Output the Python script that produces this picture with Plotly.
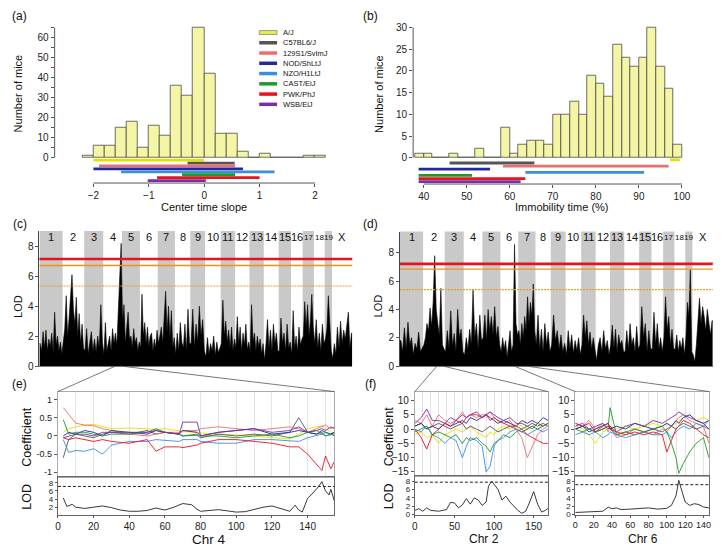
import plotly.graph_objects as go

W, H = 726, 555
FONT = "Liberation Sans, Arial, Helvetica, sans-serif"


def fx(p):
    return p / W


def fy(p):
    return 1 - p / H


# ---------------- data ----------------
strains = ["A/J", "C57BL6/J", "129S1/SvImJ", "NOD/ShLtJ", "NZO/H1LtJ", "CAST/EiJ", "PWK/PhJ", "WSB/EiJ"]
strain_colors = ["#e2e200", "#555555", "#ec6e6e", "#1f2a9e", "#3b8fdc", "#1f9a2a", "#e8141c", "#7a2fa8"]

# (a) centre time slope histogram
center_bin_start = -2.2
center_bin_width = 0.2
center_counts = [1, 6, 6, 15, 18, 5, 16, 11, 36, 31, 65, 42, 12, 12, 3, 0, 2, 0, 0, 0, 1, 1]
center_lo = [-2.0, -0.3, -1.9, -2.0, -1.5, -0.4, -0.85, -1.02]
center_hi = [0.0, 0.55, 0.56, 0.7, 1.27, 0.56, 1.0, 0.03]

# (b) immobility time histogram
immob_bin_start = 38
immob_bin_width = 2
immob_counts = [1, 1, 0, 0, 1, 0, 0, 2, 0, 0, 7, 1, 3, 4, 4, 3, 10, 10, 13, 10, 19, 17, 14, 26, 23, 21, 23, 30, 21, 16, 3]
immob_lo = [97.2, 46.0, 58.4, 38.8, 63.6, 38.8, 38.8, 38.8]
immob_hi = [99.5, 65.7, 96.9, 55.4, 91.2, 51.2, 63.6, 62.5]

# genome
chrom_names = ["1", "2", "3", "4", "5", "6", "7", "8", "9", "10", "11", "12", "13", "14", "15", "16", "17", "18", "19", "X"]
chrom_len = [195, 182, 160, 157, 152, 150, 145, 129, 125, 131, 122, 120, 121, 125, 104, 98, 95, 91, 61, 171]

# (c) LOD, centre time slope (per chromosome)
lod_center = [
    [1.5, 1.0, 2.3, 1.2, 2.4, 1.0, 1.8, 1.3, 2.2, 0.9, 3.6, 1.4, 2.0, 1.0, 1.6, 0.8],
    [1.5, 2.5, 4.7, 2.0, 3.2, 4.4, 6.1, 3.8, 2.8, 4.6, 2.0, 3.5, 1.5, 2.8, 1.2],
    [1.0, 2.5, 0.8, 1.5, 2.3, 1.0, 1.8, 0.9, 2.0, 1.2, 4.1, 1.5],
    [0.8, 2.9, 1.0, 1.5, 2.0, 1.0, 2.5, 1.5, 2.2, 1.4, 3.5, 6.3, 8.2],
    [3.0, 4.1, 1.5, 2.9, 3.6, 1.8, 2.0, 1.2, 2.5, 1.5, 1.9, 1.0, 1.6],
    [1.2, 4.8, 2.0, 2.9, 1.5, 2.6, 1.3, 2.0, 2.2, 1.0, 1.8, 1.2, 2.4],
    [1.5, 2.0, 2.6, 1.5, 3.0, 5.0, 2.2, 4.0, 1.8, 3.7, 1.2, 1.9],
    [0.8, 2.2, 1.0, 2.9, 1.6, 1.2, 2.8, 1.0, 3.8, 1.5],
    [1.5, 3.8, 1.2, 2.8, 1.6, 4.0, 2.0, 3.1, 1.0],
    [0.6, 1.9, 0.8, 1.5, 1.0, 2.0, 0.7, 1.6, 0.9, 1.2],
    [1.5, 4.4, 2.0, 3.0, 1.6, 2.4, 1.2, 2.6, 1.0, 1.8],
    [1.2, 3.3, 1.5, 2.6, 1.0, 2.2, 1.4, 2.8, 1.1, 1.6],
    [1.0, 4.1, 1.6, 2.2, 1.0, 2.0, 1.3, 1.8, 0.8, 1.5],
    [0.4, 1.5, 3.1, 1.2, 2.4, 1.0, 2.8, 1.5, 2.2, 1.0],
    [1.0, 3.2, 1.5, 2.2, 1.0, 2.8, 1.2, 1.6],
    [0.8, 3.7, 1.2, 2.0, 1.0, 2.6, 1.4, 1.8],
    [2.0, 4.3, 2.5, 4.1, 2.0, 3.0, 4.8, 2.6],
    [1.5, 3.1, 1.2, 2.2, 1.0, 2.8, 1.5],
    [1.8, 2.5, 4.7, 3.0, 1.0],
    [0.5, 1.5, 0.8, 2.6, 1.2, 3.0, 1.5, 2.4, 1.8, 2.8, 3.6, 1.2, 2.2],
]
center_thresholds = [7.15, 6.72, 5.35]

# (d) LOD, immobility time (per chromosome)
lod_immob = [
    [1.8, 1.0, 2.7, 1.2, 3.1, 1.5, 2.0, 0.8, 1.6, 1.2, 2.4, 1.0, 1.3],
    [1.5, 2.0, 3.0, 2.5, 4.1, 2.8, 4.5, 7.8, 4.0, 3.0, 2.2, 5.5, 1.5, 1.2],
    [1.0, 2.5, 1.2, 3.9, 1.4, 2.3, 1.0, 4.0, 2.0, 2.6, 1.0],
    [0.8, 2.0, 1.2, 2.6, 1.5, 5.4, 2.0, 3.0, 1.2, 3.6, 1.8],
    [2.0, 3.6, 1.8, 4.0, 2.5, 3.5, 2.2, 4.2, 2.0, 2.8, 1.5],
    [1.0, 2.0, 1.2, 1.8, 0.6, 1.5, 2.5, 1.0, 1.5, 8.6, 3.0, 2.2],
    [2.5, 1.5, 3.0, 2.0, 3.5, 2.5, 4.9, 3.0, 4.5, 3.5, 5.8, 2.5],
    [1.5, 3.6, 1.2, 2.6, 1.0, 3.0, 1.5, 2.4, 1.0],
    [1.5, 3.6, 1.8, 2.5, 1.2, 2.2, 1.0, 1.6],
    [0.8, 2.5, 1.2, 2.2, 0.9, 1.8, 1.1, 2.0, 0.8],
    [1.5, 3.6, 2.0, 3.2, 1.5, 2.4, 1.2, 2.0, 1.0],
    [0.4, 1.5, 2.0, 1.0, 2.5, 1.2, 1.8, 0.8],
    [1.5, 2.9, 1.2, 2.6, 1.0, 2.2, 1.5, 1.8, 1.0],
    [1.0, 2.5, 1.2, 3.0, 1.5, 2.0, 1.0, 2.8, 1.2],
    [1.5, 4.2, 2.0, 3.0, 1.0, 2.5, 1.2],
    [1.2, 3.8, 1.5, 3.0, 1.2, 2.0, 1.0],
    [2.0, 4.9, 2.5, 3.5, 1.5, 2.6, 1.2],
    [1.2, 2.2, 1.0, 1.8, 1.2, 2.0, 0.8],
    [2.0, 4.5, 3.5, 6.8, 1.0],
    [0.8, 0.3, 1.5, 3.5, 4.8, 3.0, 4.2, 3.5, 2.5, 4.0, 3.0, 2.2, 3.2],
]
immob_thresholds = [7.22, 6.85, 5.40]

# (e) chromosome 4 coefficients (strain order as above) and LOD
chr4_pos = [3, 6, 10, 15, 20, 25, 30, 40, 50, 55, 60, 68, 70, 78, 80, 90, 100, 110, 120, 130, 135, 140, 145, 148, 150, 153, 155]
chr4_coef = [
    [0.1, 0.2, 0.25, 0.3, 0.32, 0.25, 0.2, 0.22, 0.2, 0.18, 0.2, 0.15, 0.12, 0.1, 0.08, 0.05, 0.03, 0.0, -0.05, -0.08, 0.05, 0.2, 0.25, 0.28, 0.2, 0.1, 0.05],
    [-0.6, -0.1, 0.05, 0.0, -0.05, 0.05, 0.1, 0.05, 0.15, 0.05, 0.1, 0.05, 0.0, 0.02, -0.05, 0.05, 0.0, 0.05, 0.0, 0.1, 0.5, 0.1, 0.05, 0.1, 0.0, 0.05, 0.1],
    [0.78, 0.6, 0.35, 0.3, 0.28, 0.2, 0.15, 0.05, 0.0, 0.05, 0.1, 0.1, 0.15, 0.15, 0.2, 0.25, 0.2, 0.15, 0.2, 0.25, 0.2, 0.1, 0.2, 0.25, 0.3, 0.2, 0.25],
    [0.0, 0.1, 0.05, 0.15, 0.1, 0.0, 0.15, 0.1, 0.05, 0.15, 0.1, 0.05, 0.15, 0.1, 0.0, 0.1, 0.15, 0.2, 0.05, 0.1, 0.15, 0.1, 0.05, 0.15, 0.1, 0.05, 0.1],
    [-0.1, -0.45, -0.4, -0.42, -0.35, -0.5, -0.25, -0.15, -0.15, -0.1, -0.12, -0.15, -0.1, -0.1, -0.15, -0.2, -0.2, -0.1, -0.1, -0.12, -0.15, -0.05, 0.0, 0.05, 0.0, 0.02, 0.05],
    [0.45, 0.05, 0.1, 0.1, 0.05, 0.0, 0.05, 0.05, 0.1, 0.2, 0.1, 0.05, 0.0, 0.05, 0.0, 0.0, -0.05, 0.0, 0.05, -0.05, 0.0, 0.1, 0.15, 0.05, 0.1, 0.05, 0.0],
    [-0.05, -0.1, -0.05, -0.1, -0.15, -0.1, -0.15, -0.2, -0.1, -0.42, -0.3, -0.3, -0.32, -0.25, -0.2, -0.1, -0.1, -0.15, -0.2, -0.3, -0.3, -0.5, -0.8, -0.95, -0.55, -0.9, -0.7],
    [-0.05, 0.0, 0.05, 0.05, 0.0, 0.1, 0.1, 0.12, 0.1, 0.15, 0.1, 0.05, 0.38, 0.38, 0.0, 0.1, 0.15, 0.2, 0.1, 0.15, 0.25, 0.1, 0.15, 0.2, 0.15, 0.25, 0.2],
]
chr4_lod_pos = [3, 5, 8, 10, 15, 20, 25, 30, 35, 40, 45, 50, 55, 60, 65, 70, 75, 78, 80, 90, 100, 105, 110, 115, 120, 125, 130, 133, 135, 137, 140, 143, 146, 148, 150, 152, 153, 155]
chr4_lod = [4.3, 2.2, 2.7, 2.0, 1.7, 2.0, 2.3, 1.9, 1.3, 1.0, 1.0, 1.2, 1.8, 1.3, 2.0, 2.9, 2.6, 1.5, 1.0, 1.4, 0.8, 0.9, 1.5, 2.0, 2.3, 1.6, 1.0, 2.5, 1.3, 0.8, 4.2, 5.5, 7.0, 8.3, 6.0, 5.0, 6.4, 3.5]
chr4_lod_threshold = 7.1

# (f) chromosome 2 and 6
chr2_pos = [0, 8, 15, 22, 30, 38, 45, 52, 60, 65, 70, 78, 85, 90, 95, 100, 105, 112, 120, 128, 135, 142, 148, 155, 162, 168]
chr2_coef = [
    [-2, -1, -3, -2, -5, -2, -1, 0, -1, 0, 1, -1, -2, -3, -1, -2, 0, 1, 0, 2, 1, 0, 1, 2, 1, 2],
    [1, 2, 0, 1, 2, 1, 0, 1, 2, 0, 1, 0, -1, 0, 1, 0, -1, 0, 1, 0, -1, 0, 1, 0, 1, 2],
    [3, 2, 5, 1, 5, 3, 2, 3, 6, 4, 5, 4, 5, 5, 6, 4, 3, 2, 3, 0, -3, -10, -6, -2, 0, 1],
    [1, 2, 0, 1, 0, 2, 1, 2, 3, 2, 4, 3, 4, 5, 4, 3, 2, 3, 2, 1, 3, 2, 3, 2, 4, 3],
    [0, -1, 1, -2, -3, -5, -3, -4, -10, -6, -3, -4, -6, -15, -13, -6, -4, -3, -1, 0, -1, -2, -1, 0, -1, 0],
    [-1, 0, 1, -2, -1, -2, -3, -2, -5, -3, -4, -3, -5, -6, -8, -5, -4, -2, -3, -1, 0, 1, 0, 2, 1, 2],
    [0, -3, -7, -2, 0, 2, 1, 3, 2, 4, 5, 5, 4, 5, 3, 4, 3, 2, 1, 1, 0, -2, -3, -4, -5, -5],
    [2, 4, 7, 3, 3, 2, 4, 3, 5, 4, 5, 6, 4, 5, 6, 5, 4, 3, 4, 2, 2, 1, 2, 1, 2, 1],
]
chr2_lod_pos = [0, 5, 10, 15, 20, 30, 40, 45, 50, 55, 60, 65, 70, 75, 80, 85, 90, 93, 97, 100, 105, 110, 115, 120, 125, 130, 135, 140, 145, 150, 155, 160, 165, 168]
chr2_lod = [1.0, 1.4, 0.8, 1.6, 1.0, 0.8, 1.2, 2.9, 2.8, 1.6, 2.3, 3.8, 2.5, 4.0, 3.5, 2.2, 3.0, 6.8, 8.0, 7.3, 6.0, 3.5, 4.4, 3.0, 2.0, 1.0, 0.3, 0.8, 3.0, 5.5, 2.5, 0.6, 1.0, 1.5]
chr2_lod_threshold = 7.75

chr6_pos = [0, 8, 15, 22, 30, 36, 38, 45, 55, 65, 75, 85, 95, 100, 105, 110, 113, 118, 125, 132, 140, 146]
chr6_coef = [
    [1, 0, -2, -5, -1, 0, 1, 0, 1, 0, 1, 2, 1, 2, 1, 2, 3, 4, 5, 3, 4, 3],
    [0, 1, 0, -1, 0, 1, 0, -2, -1, -2, -1, 0, -1, 0, 1, 0, 1, 2, 1, 0, 1, 0],
    [2, 1, 3, 0, 2, -1, 1, -3, -2, 0, -1, -2, 0, -1, 1, 3, 4, 5, 3, 2, 1, -5],
    [0, 1, -1, 0, 1, 2, 0, 1, 0, 2, 1, 0, 1, 2, 1, 3, 2, 4, 5, 3, 2, 3],
    [-2, -1, -2, -1, -3, -2, -1, -2, -3, -2, -1, -2, -2, -1, -3, -1, 0, 1, 0, 2, 1, 3],
    [0, -1, 0, -1, 0, 1, 7.5, -2, -1, 0, -1, 0, 1, -1, -5, -10, -15.5, -12, -8, -5, -3, -10],
    [2, 1, 2, -1, 1, 2, 0, -1, -2, -1, -2, -1, -2, -8, -4, 0, 1, 3, 2, 0, -2, -3],
    [1, 2, 0, 1, 2, 0, 1, -1, 1, 2, 1, 3, 2, 3, 4, 5, 6, 5, 4, 3, 2, 0],
]
chr6_lod_pos = [0, 10, 20, 30, 36, 40, 45, 50, 60, 70, 80, 90, 100, 105, 110, 113, 116, 120, 125, 130, 135, 140, 146]
chr6_lod = [0.5, 0.6, 0.7, 0.8, 1.8, 1.4, 1.6, 1.2, 1.3, 1.4, 1.6, 1.3, 1.5, 2.2, 4.5, 8.2, 6.0, 3.0, 2.2, 2.6, 2.4, 1.8, 1.6]
chr6_lod_threshold = 7.15

# ---------------- figure ----------------
fig = go.Figure()
TICKFONT = dict(size=10, color="#222", family=FONT)
SMALLTICK = dict(size=9, color="#222", family=FONT)
TINYTICK = dict(size=8, color="#222", family=FONT)
AXC = "#555555"


def ax(**kw):
    d = dict(showgrid=False, zeroline=False, showline=False, ticks="outside", ticklen=3,
             tickwidth=1, tickcolor=AXC, tickfont=TICKFONT, fixedrange=True, tickangle=0)
    d.update(kw)
    return d


def xdom(a, b):
    return [fx(a), fx(b)]


def ydom(top, bottom):
    return [fy(bottom), fy(top)]


shapes = []
annotations = []


def text(px, py, s, size=11, angle=0, anchor="center", **kw):
    annotations.append(dict(x=fx(px), y=fy(py), xref="paper", yref="paper", text=s, showarrow=False,
                            font=dict(size=size, color="#111", family=FONT), textangle=angle,
                            xanchor=anchor, yanchor="middle", **kw))


def pline(x0, y0, x1, y1, color="#444", width=1, dash="solid"):
    shapes.append(dict(type="line", xref="paper", yref="paper", x0=fx(x0), y0=fy(y0), x1=fx(x1), y1=fy(y1),
                       line=dict(color=color, width=width, dash=dash)))


# ---- (a) ----
centers_a = [center_bin_start + center_bin_width * (i + 0.5) for i in range(len(center_counts))]
fig.add_trace(go.Bar(x=centers_a, y=center_counts, width=center_bin_width, xaxis="x", yaxis="y",
                     marker=dict(color="#f4f6a6", line=dict(color="#4a4a4a", width=0.8)), hoverinfo="skip"))
for i, s in enumerate(strains):
    lvl = -1.15 - 1.46 * i
    fig.add_trace(go.Scatter(x=[center_lo[i], center_hi[i]], y=[lvl, lvl], mode="lines", xaxis="x", yaxis="y",
                             line=dict(color=strain_colors[i], width=2.8), hoverinfo="skip"))
shapes.append(dict(type="line", xref="x domain", yref="y", x0=0, x1=0, y0=0, y1=65, line=dict(color=AXC, width=1)))
shapes.append(dict(type="line", xref="x", yref="y domain", x0=-2, x1=2, y0=0, y1=0, line=dict(color=AXC, width=1)))

# ---- (b) ----
centers_b = [immob_bin_start + immob_bin_width * (i + 0.5) for i in range(len(immob_counts))]
fig.add_trace(go.Bar(x=centers_b, y=immob_counts, width=immob_bin_width, xaxis="x2", yaxis="y2",
                     marker=dict(color="#f4f6a6", line=dict(color="#4a4a4a", width=0.8)), hoverinfo="skip"))
for i, s in enumerate(strains):
    lvl = -0.5 - 0.72 * i
    fig.add_trace(go.Scatter(x=[immob_lo[i], immob_hi[i]], y=[lvl, lvl], mode="lines", xaxis="x2", yaxis="y2",
                             line=dict(color=strain_colors[i], width=2.8), hoverinfo="skip"))
shapes.append(dict(type="line", xref="x2 domain", yref="y2", x0=0, x1=0, y0=0, y1=30, line=dict(color=AXC, width=1)))
shapes.append(dict(type="line", xref="x2", yref="y2 domain", x0=40, x1=100, y0=0, y1=0, line=dict(color=AXC, width=1)))

# legend (panel a)
for i, s in enumerate(strains):
    yy = 30 + 10.43 * i
    if i == 0:
        shapes.append(dict(type="rect", xref="paper", yref="paper", x0=fx(258), x1=fx(276), y0=fy(yy + 2), y1=fy(yy - 2),
                           fillcolor="#eaea50", line=dict(color="#888", width=0.8)))
    else:
        pline(258, yy, 276, yy, color=strain_colors[i], width=3.5)
    text(280, yy, s, size=7.5, anchor="left")

# ---- genome scans (c) and (d) ----
offsets = []
acc = 0
for L in chrom_len:
    offsets.append(acc)
    acc += L
genome_len = acc


def genome_xy(per_chr):
    xs, ys = [0], [per_chr[0][0]]
    for k, vals in enumerate(per_chr):
        n = len(vals)
        for i, v in enumerate(vals):
            xs.append(offsets[k] + (i + 0.5) * chrom_len[k] / n)
            ys.append(v)
    xs.append(genome_len)
    ys.append(per_chr[-1][-1])
    return xs, ys


for data, xa, ya, thr in [(lod_center, "x3", "y3", center_thresholds), (lod_immob, "x4", "y4", immob_thresholds)]:
    for k, L in enumerate(chrom_len):
        if k % 2 == 0:
            shapes.append(dict(type="rect", xref=xa, yref=ya + " domain", x0=offsets[k], x1=offsets[k] + L, y0=0, y1=1,
                               fillcolor="#c9c9c9", line=dict(width=0), layer="below"))
        annotations.append(dict(x=offsets[k] + L / 2, y=fy(238), xref=xa, yref="paper", text=chrom_names[k],
                                showarrow=False, font=dict(size=11 if L >= 98 else 8, color="#111", family=FONT),
                                xanchor="center", yanchor="middle"))
    xs, ys = genome_xy(data)
    fig.add_trace(go.Scatter(x=xs, y=ys, mode="lines", fill="tozeroy", fillcolor="#000000", xaxis=xa, yaxis=ya,
                             line=dict(color="#000000", width=0.6), hoverinfo="skip"))
    for t, col, w, dsh in zip(thr, ["#e8141c", "#f0901e", "#e8a030"], [2.6, 1.4, 1.2], ["solid", "solid", "2px,1px"]):
        shapes.append(dict(type="line", xref=xa + " domain", yref=ya, x0=0, x1=1, y0=t, y1=t,
                           line=dict(color=col, width=w, dash=dsh)))

# ---- coefficient panels (e), (f) ----
panels = [
    ("x5", "y5", "x6", "y6", chr4_pos, chr4_coef, chr4_lod_pos, chr4_lod, chr4_lod_threshold),
    ("x7", "y7", "x8", "y8", chr2_pos, chr2_coef, chr2_lod_pos, chr2_lod, chr2_lod_threshold),
    ("x9", "y9", "x10", "y10", chr6_pos, chr6_coef, chr6_lod_pos, chr6_lod, chr6_lod_threshold),
]
for xc, yc, xl, yl, pos, coef, lpos, lod, lthr in panels:
    for i in range(len(strains)):
        fig.add_trace(go.Scatter(x=pos, y=coef[i], mode="lines", xaxis=xc, yaxis=yc,
                                 line=dict(color=strain_colors[i], width=0.9), hoverinfo="skip"))
    fig.add_trace(go.Scatter(x=lpos, y=lod, mode="lines", xaxis=xl, yaxis=yl,
                             line=dict(color="#222", width=0.9), hoverinfo="skip"))
    shapes.append(dict(type="line", xref=xl + " domain", yref=yl, x0=0, x1=1, y0=lthr, y1=lthr,
                       line=dict(color="#222", width=1, dash="3px,2px")))

# connectors
pline(113.3, 369, 55.3, 395, color="#555", width=0.8)
pline(118.5, 369, 333.7, 395, color="#555", width=0.8)
pline(437, 369, 414.7, 395, color="#555", width=0.8)
pline(443, 369, 548.7, 395, color="#555", width=0.8)
pline(514.7, 369, 576.3, 395, color="#555", width=0.8)
pline(526.3, 369, 711.3, 395, color="#555", width=0.8)

# ---- text ----
text(17, 13, "(a)", size=12)
text(370, 13, "(b)", size=12)
text(17, 225, "(c)", size=12)
text(370, 225, "(d)", size=12)
text(17, 387, "(e)", size=12)
text(370, 387, "(f)", size=12)
text(15, 92, "Number of mice", size=11, angle=-90)
text(378, 92, "Number of mice", size=11, angle=-90)
text(202, 207, "Center time slope", size=11)
text(563, 207, "Immobility time (%)", size=11)
text(15, 308, "LOD", size=11, angle=-90)
text(378, 308, "LOD", size=11, angle=-90)
text(24, 441, "Coefficient", size=12.5, angle=-90)
text(24, 502, "LOD", size=12.5, angle=-90)
text(207.5, 545, "Chr 4", size=13.5)
text(389, 441, "Coefficient", size=12.5, angle=-90)
text(389, 501, "LOD", size=12.5, angle=-90)
text(484, 545, "Chr 2", size=12)
text(644.7, 545, "Chr 6", size=12)

# ---- axes ----
coef_frame = dict(showline=True, mirror=True, linecolor="#aaaaaa", linewidth=1)
lod_frame = dict(showline=True, mirror=True, linecolor="#666666", linewidth=1)
layout_axes = dict(
    xaxis=ax(domain=xdom(52, 342), range=[-2.70, 2.50], tickvals=[-2, -1, 0, 1, 2], anchor="y"),
    yaxis=ax(domain=ydom(22, 183), range=[-12.6, 66.6], tickvals=list(range(0, 70, 5)),
             ticktext=[str(v) if v % 10 == 0 and v <= 60 else "" for v in range(0, 70, 5)], anchor="x"),
    xaxis2=ax(domain=xdom(413, 690), range=[37.53, 101.46], tickvals=[40, 50, 60, 70, 80, 90, 100], anchor="y2"),
    yaxis2=ax(domain=ydom(22, 184), range=[-6.07, 30.68], tickvals=[0, 5, 10, 15, 20, 25, 30], anchor="x2"),
    xaxis3=ax(domain=xdom(36.7, 351.7), range=[0, genome_len], showticklabels=False, ticks="", anchor="y3",
              showline=True, linecolor="#777"),
    yaxis3=ax(domain=ydom(231.7, 369), range=[0, 9.03], tickvals=[0, 2, 4, 6, 8], anchor="x3",
              showline=True, linecolor="#444"),
    xaxis4=ax(domain=xdom(399.7, 714.7), range=[0, genome_len], showticklabels=False, ticks="", anchor="y4",
              showline=True, linecolor="#777"),
    yaxis4=ax(domain=ydom(232.3, 369), range=[0, 9.51], tickvals=[0, 2, 4, 6, 8], anchor="x4",
              showline=True, linecolor="#444"),
    xaxis5=ax(domain=xdom(55.3, 333.7), range=[0, 155], showticklabels=False, ticks="", anchor="y5",
              showgrid=True, gridcolor="#e2e2e2", dtick=10, tick0=0, **coef_frame),
    yaxis5=ax(domain=ydom(395, 481.5), range=[-1.12, 1.22], tickvals=[-1, -0.5, 0, 0.5, 1],
              ticktext=["-1", "-0.5", "0", "0.5", "1"], anchor="x5", tickfont=SMALLTICK, **coef_frame),
    xaxis6=ax(domain=xdom(55.3, 333.7), range=[0, 155], tickvals=[0, 20, 40, 60, 80, 100, 120, 140], anchor="y6",
              ticklen=2, **lod_frame),
    yaxis6=ax(domain=ydom(481.5, 520.5), range=[0.07, 9.5], tickvals=[2, 4, 6, 8], anchor="x6",
              tickfont=TINYTICK, ticklen=2, **lod_frame),
    xaxis7=ax(domain=xdom(414.7, 548.7), range=[0, 168], showticklabels=False, ticks="", anchor="y7",
              showgrid=True, gridcolor="#e2e2e2", dtick=10, tick0=0, **coef_frame),
    yaxis7=ax(domain=ydom(395, 480.7), range=[-16.37, 13.1], tickvals=[-15, -10, -5, 0, 5, 10], anchor="x7", **coef_frame),
    xaxis8=ax(domain=xdom(414.7, 548.7), range=[0, 168], tickvals=[0, 50, 100, 150], anchor="y8", ticklen=2, **lod_frame),
    yaxis8=ax(domain=ydom(481, 520), range=[0, 9.18], tickvals=[0, 2, 4, 6, 8], anchor="x8",
              tickfont=TINYTICK, ticklen=2, **lod_frame),
    xaxis9=ax(domain=xdom(576.3, 711.3), range=[0, 146.5], showticklabels=False, ticks="", anchor="y9",
              showgrid=True, gridcolor="#e2e2e2", dtick=10, tick0=0, **coef_frame),
    yaxis9=ax(domain=ydom(395, 480.7), range=[-16.37, 13.1], tickvals=[-15, -10, -5, 0, 5, 10], anchor="x9", **coef_frame),
    xaxis10=ax(domain=xdom(576.3, 711.3), range=[0, 146.5], tickvals=[0, 20, 40, 60, 80, 100, 120, 140], anchor="y10",
               ticklen=2, tickfont=SMALLTICK, **lod_frame),
    yaxis10=ax(domain=ydom(481, 520), range=[0, 9.18], tickvals=[0, 2, 4, 6, 8], anchor="x10",
               tickfont=TINYTICK, ticklen=2, **lod_frame),
)

fig.update_layout(
    width=W, height=H, autosize=False,
    margin=dict(l=0, r=0, t=0, b=0),
    paper_bgcolor="white", plot_bgcolor="white",
    showlegend=False, bargap=0,
    font=dict(family=FONT, size=10, color="#222"),
    shapes=shapes, annotations=annotations,
    **layout_axes,
)

fig.write_html("out.html", config={"displayModeBar": False},
               post_script="document.body.style.margin='0';document.body.style.padding='0';")
